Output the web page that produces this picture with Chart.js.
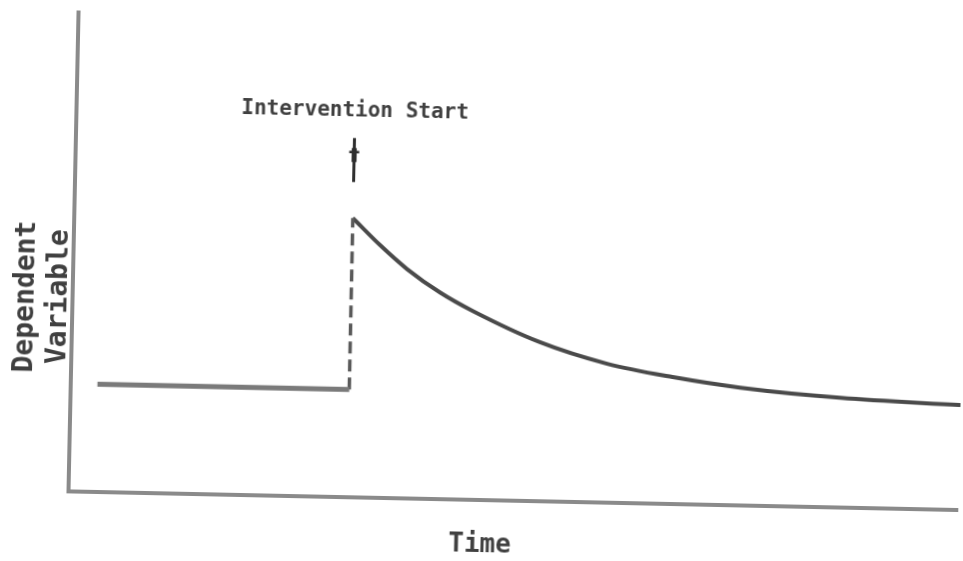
<!DOCTYPE html>
<html>
<head>
<meta charset="utf-8">
<script src="https://cdn.jsdelivr.net/npm/chart.js@4.4.1/dist/chart.umd.min.js"></script>
<style>
  html, body { margin: 0; padding: 0; background: #fff; overflow: hidden; }
  #wrap { width: 963px; height: 561px; transform: rotate(1.2deg); }
  #chart { filter: blur(0.6px); }
</style>
</head>
<body>
<div id="wrap"><canvas id="chart" width="963" height="561"></canvas></div>
<script>
// Baseline phase (before intervention)
const baselineTime = [3.0, 31.3];
const baselineValue = [22.5, 22.5];

// Intervention
const interventionTime = 31.3;
const interventionLabel = 'Intervention Start';

// Response after intervention (decay)
const responseTime = [31.3, 34.4, 37.5, 41.3, 45.0, 52.6, 60.2, 67.6, 75.2, 86.5, 100];
const responseValue = [58.3, 52.8, 47.9, 43.1, 39.4, 33.2, 29.0, 26.5, 24.6, 22.9, 21.9];

const xTitle = 'Time';
const yTitle = ['Dependent', 'Variable'];

const toPoints = (xs, ys) => xs.map((x, i) => ({ x: x, y: ys[i] }));

const monoFont = '"DejaVu Sans Mono", "Liberation Mono", monospace';

// labels, arrow and axis titles
const annotate = {
    id: 'annotate',
    afterDraw(chart) {
        const ctx = chart.ctx;
        const area = chart.chartArea;
        const xs = chart.scales.x;
        const ys = chart.scales.y;
        const ix = xs.getPixelForValue(interventionTime);
        const peakY = ys.getPixelForValue(responseValue[0]);

        ctx.save();
        ctx.fillStyle = '#404040';
        ctx.strokeStyle = '#2e2e2e';

        // arrow
        ctx.lineWidth = 3;
        ctx.beginPath();
        ctx.moveTo(ix, peakY - 80);
        ctx.lineTo(ix, peakY - 36);
        ctx.stroke();
        ctx.lineWidth = 5;
        ctx.beginPath();
        ctx.moveTo(ix, peakY - 70);
        ctx.lineTo(ix, peakY - 56);
        ctx.stroke();
        ctx.lineWidth = 2.5;
        ctx.beginPath();
        ctx.moveTo(ix - 5, peakY - 66);
        ctx.lineTo(ix + 5, peakY - 66);
        ctx.stroke();

        ctx.textAlign = 'center';
        ctx.textBaseline = 'middle';
        ctx.font = 'bold 21px ' + monoFont;
        ctx.fillText(interventionLabel, ix, peakY - 107);

        // x title
        ctx.font = 'bold 26px ' + monoFont;
        ctx.fillText(xTitle, area.left + (area.right - area.left) * 0.463, area.bottom + 45);

        // y title, rotated
        ctx.translate(area.left, area.bottom);
        ctx.rotate(-Math.PI / 2);
        ctx.textAlign = 'left';
        ctx.font = 'bold 28px ' + monoFont;
        ctx.fillText(yTitle[0], 118, -46);
        ctx.fillText(yTitle[1], 127, -13);
        ctx.restore();
    }
};

const config = {
    type: 'line',
    data: {
        datasets: [
            {
                data: toPoints(baselineTime, baselineValue),
                borderColor: '#7a7a7a',
                borderWidth: 5,
                pointRadius: 0
            },
            {
                data: toPoints([interventionTime, interventionTime], [baselineValue[1], responseValue[0]]),
                borderColor: '#5a5a5a',
                borderWidth: 3.5,
                borderDash: [12, 6],
                pointRadius: 0
            },
            {
                data: toPoints(responseTime, responseValue),
                borderColor: '#4a4a4a',
                borderWidth: 4,
                pointRadius: 0,
                cubicInterpolationMode: 'monotone'
            }
        ]
    },
    options: {
        responsive: false,
        animation: false,
        layout: { padding: { left: 73, top: 21, right: 0, bottom: 61 } },
        plugins: {
            legend: { display: false },
            tooltip: { enabled: false }
        },
        scales: {
            x: {
                type: 'linear',
                min: 0,
                max: 100,
                grid: { display: false },
                ticks: { display: false },
                border: { display: true, color: '#8a8a8a', width: 4 },
                afterFit(scale) { scale.height = 0; }
            },
            y: {
                min: 0,
                max: 100,
                grid: { display: false },
                ticks: { display: false },
                border: { display: true, color: '#8a8a8a', width: 4 },
                afterFit(scale) { scale.width = 0; }
            }
        }
    },
    plugins: [annotate]
};

new Chart(document.getElementById('chart').getContext('2d'), config);
</script>
</body>
</html>
